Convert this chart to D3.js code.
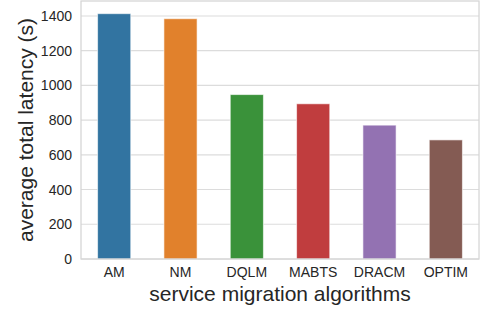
<!DOCTYPE html>
<html>
<head>
<meta charset="utf-8">
<script src="https://cdn.jsdelivr.net/npm/d3@7"></script>
<style>
    body { margin: 0; background: #fff; }
    svg { display: block; font-family: "Liberation Sans", Arial, sans-serif; }
</style>
</head>
<body>
<div id="chart"></div>
<script>
// Data
const algorithms = ['AM', 'NM', 'DQLM', 'MABTS', 'DRACM', 'OPTIM'];
const latency = [1413, 1384, 947, 894, 771, 686];
const barColors = ['#3274a1', '#e1812c', '#3a923a', '#c03d3e', '#9372b2', '#845b53'];
const yTicks = [0, 200, 400, 600, 800, 1000, 1200, 1400];

const width = 481;
const height = 312;
const margin = { top: 1, right: 2, bottom: 53, left: 81 };

const svg = d3.select('#chart')
    .append('svg')
    .attr('width', width)
    .attr('height', height);

const x = d3.scaleBand()
    .domain(algorithms)
    .range([margin.left, width - margin.right])
    .padding(0);

const y = d3.scaleLinear()
    .domain([0, 1486])
    .range([height - margin.bottom, margin.top]);

// Grid lines
svg.append('g')
    .selectAll('line')
    .data(yTicks)
    .enter()
    .append('line')
    .attr('x1', margin.left)
    .attr('x2', width - margin.right)
    .attr('y1', d => y(d))
    .attr('y2', d => y(d))
    .attr('stroke', '#dcdcdc')
    .attr('stroke-width', 1.1);

// Bars
const barW = x.bandwidth() * 0.5;
svg.append('g')
    .selectAll('rect')
    .data(algorithms)
    .enter()
    .append('rect')
    .attr('x', d => x(d) + (x.bandwidth() - barW) / 2)
    .attr('y', (d, i) => y(latency[i]))
    .attr('width', barW)
    .attr('height', (d, i) => y(0) - y(latency[i]))
    .attr('fill', (d, i) => barColors[i])
    .attr('stroke', 'rgba(255,255,255,0.6)')
    .attr('stroke-width', 1);

// Frame
svg.append('rect')
    .attr('x', margin.left)
    .attr('y', margin.top)
    .attr('width', width - margin.left - margin.right)
    .attr('height', height - margin.top - margin.bottom)
    .attr('fill', 'none')
    .attr('stroke', '#d5d5d5')
    .attr('stroke-width', 1.25);

// Axes (no tick marks, seaborn whitegrid look)
const yAxis = svg.append('g')
    .attr('transform', `translate(${margin.left}, 0)`)
    .call(d3.axisLeft(y).tickValues(yTicks).tickFormat(d3.format('d')).tickSize(0).tickPadding(9));
const xAxis = svg.append('g')
    .attr('transform', `translate(0, ${height - margin.bottom})`)
    .call(d3.axisBottom(x).tickSize(0).tickPadding(8));

[xAxis, yAxis].forEach(ax => {
    ax.select('.domain').remove();
    ax.selectAll('text')
        .style('font-size', '14px')
        .style('font-family', '"Liberation Sans", Arial, sans-serif')
        .attr('fill', '#262626');
});

// Axis titles
svg.append('text')
    .attr('x', (margin.left + width - margin.right) / 2)
    .attr('y', 301)
    .attr('text-anchor', 'middle')
    .style('font-size', '21px')
    .attr('fill', '#262626')
    .text('service migration algorithms');

svg.append('text')
    .attr('transform', `translate(33, ${(margin.top + height - margin.bottom) / 2}) rotate(-90)`)
    .attr('text-anchor', 'middle')
    .style('font-size', '21px')
    .attr('fill', '#262626')
    .text('average total latency (s)');
</script>
</body>
</html>
